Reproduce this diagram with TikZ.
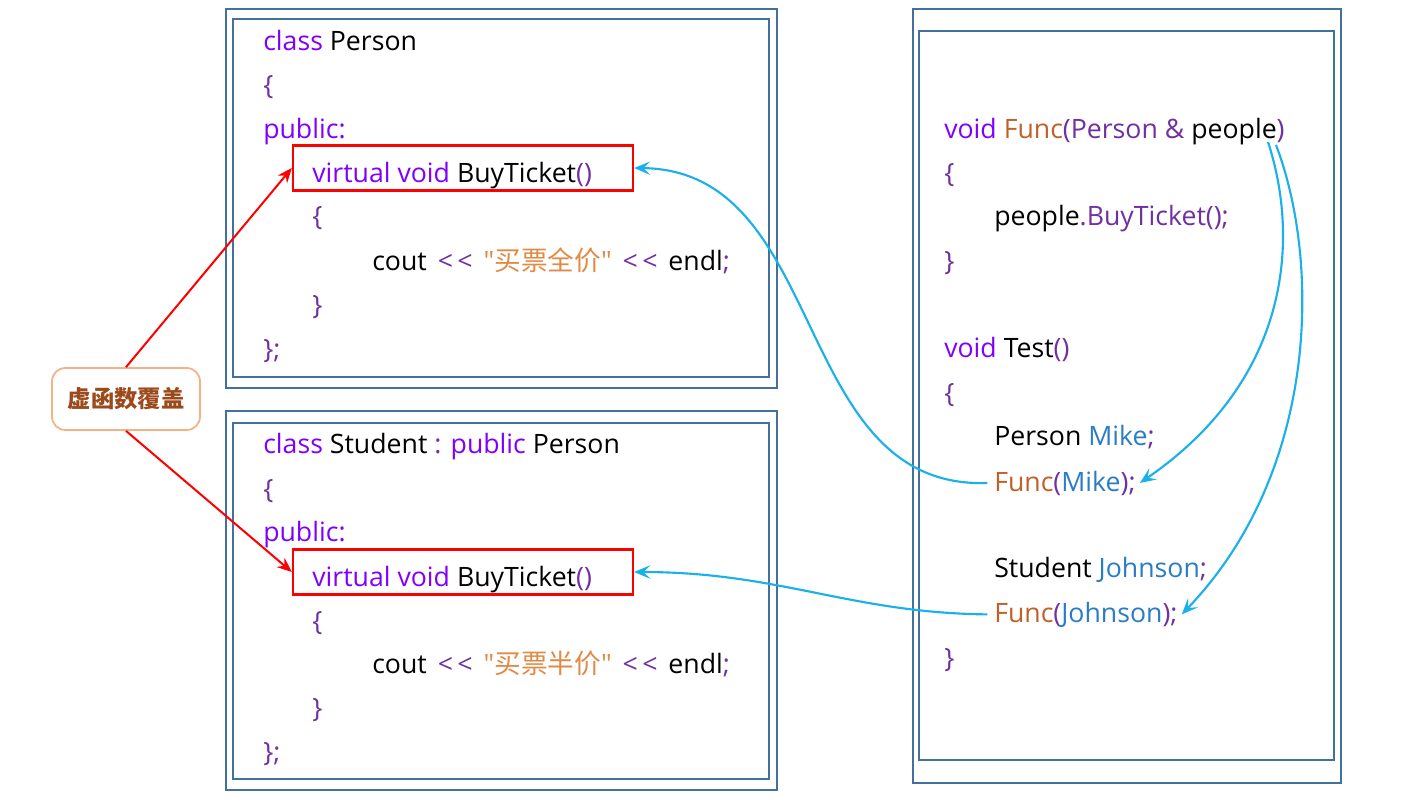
\documentclass[tikz,border=0pt]{standalone}
\usepackage{fontspec}
\setmainfont{Open Sans}
\newfontfamily\cjk{Noto Sans CJK SC}
\usepackage{tikz}
\usetikzlibrary{arrows.meta}
\definecolor{kwc}{HTML}{8000FF}
\definecolor{pnc}{HTML}{7030A0}
\definecolor{strc}{HTML}{E08A45}
\definecolor{fnc}{HTML}{C0602A}
\definecolor{varc}{HTML}{2A7CC6}
\definecolor{boxc}{HTML}{41719C}
\definecolor{arrc}{HTML}{1BB0EA}
\definecolor{tagc}{HTML}{F4B183}
\definecolor{tagtxt}{HTML}{9C4A1C}
\newcommand{\kwd}[1]{\textcolor{kwc}{#1}}
\newcommand{\pnc}[1]{\textcolor{pnc}{#1}}
\newcommand{\strg}[1]{\textcolor{strc}{\textquotedbl{\cjk #1}\textquotedbl}}
\newcommand{\fnc}[1]{\textcolor{fnc}{#1}}
\newcommand{\varn}[1]{\textcolor{varc}{#1}}
\newcommand{\shl}{\hspace{0.15em}\pnc{\textless\,\textless}\hspace{0.15em}}

\begin{document}
\begin{tikzpicture}[x=0.75pt, y=-0.75pt,
    code/.style={anchor=base west, inner sep=0pt, font=\fontsize{20}{24}\selectfont},
    boxline/.style={draw=boxc, line width=1.6pt},
    redbox/.style={draw=red, line width=1.7pt, minimum width=255pt, minimum height=33.75pt,
        inner sep=0pt},
    tag/.style={draw=tagc, line width=1.3pt, rounded corners=10pt, fill=white,
        minimum width=111pt, minimum height=46.5pt, text=tagtxt,
        font=\cjk\fontsize{17.5}{20}\selectfont\bfseries},
    redarr/.style={draw=red, line width=1.5pt, -{Stealth[length=11pt, width=9pt]}},
    bluearr/.style={draw=arrc, line width=1.6pt, -{Stealth[length=12pt, width=10pt, inset=5pt]}}]
  \useasboundingbox (0,0) rectangle (1401,807);

  % frames
  \draw[boxline] (226,9) rectangle (777,388);
  \draw[boxline] (233,19) rectangle (769,377);
  \draw[boxline] (226,411) rectangle (777,790);
  \draw[boxline] (233,423) rectangle (769,779);
  \draw[boxline] (913,9) rectangle (1341,783);
  \draw[boxline] (919,31) rectangle (1334,760);

  % class Person
  \node[redbox] (vbuy1) at (463,168) {};
  \node[code] (p1) at (263,50) {\kwd{class} Person};
  \node[code] (p2) at (263,94) {\pnc{\{}};
  \node[code] (p3) at (263,138) {\kwd{public:}};
  \node[code] (p4) at (312,182) {\kwd{virtual void} BuyTicket\pnc{()}};
  \node[code] (p5) at (312,225) {\pnc{\{}};
  \node[code] (p6) at (372,270) {cout \shl{} \strg{买票全价} \shl{} endl\pnc{;}};
  \node[code] (p7) at (312,314) {\pnc{\}}};
  \node[code] (p8) at (263,358) {\pnc{\};}};

  % class Student
  \node[redbox] (vbuy2) at (463,572) {};
  \node[code] (s1) at (263,453) {\kwd{class} Student \pnc{:} \kwd{public} Person};
  \node[code] (s2) at (263,498) {\pnc{\{}};
  \node[code] (s3) at (263,541) {\kwd{public:}};
  \node[code] (s4) at (312,586) {\kwd{virtual void} BuyTicket\pnc{()}};
  \node[code] (s5) at (312,630) {\pnc{\{}};
  \node[code] (s6) at (372,673) {cout \shl{} \strg{买票半价} \shl{} endl\pnc{;}};
  \node[code] (s7) at (312,717) {\pnc{\}}};
  \node[code] (s8) at (263,761) {\pnc{\};}};

  % Func / Test
  \node[code] (f1) at (944,138) {\kwd{void} \fnc{Func}\pnc{(Person \&} people\pnc{)}};
  \node[code] (f2) at (944,182) {\pnc{\{}};
  \node[code] (f3) at (994,225) {people\pnc{.BuyTicket();}};
  \node[code] (f4) at (944,270) {\pnc{\}}};
  \node[code] (t1) at (944,357) {\kwd{void} Test\pnc{()}};
  \node[code] (t2) at (944,402) {\pnc{\{}};
  \node[code] (t3) at (994,445) {Person \varn{Mike}\pnc{;}};
  \node[code] (callmike) at (994,491) {\fnc{Func}\pnc{(}\varn{Mike}\pnc{);}};
  \node[code] (t5) at (994,577) {Student \varn{Johnson}\pnc{;}};
  \node[code] (calljohn) at (994,622) {\fnc{Func}\pnc{(}\varn{Johnson}\pnc{);}};
  \node[code] (t7) at (944,667) {\pnc{\}}};

  \node[tag] (over) at (126,399) {虚函数覆盖};
  \coordinate (pplA) at (1268,142);
  \coordinate (pplB) at (1276,145);

  \draw[redarr] (over.north) -- (vbuy1.west);
  \draw[redarr] (over.south) -- (vbuy2.west);
  \draw[bluearr] ([xshift=-5pt]callmike.west) .. controls (790,490) and (830,170) .. (vbuy1.east);
  \draw[bluearr] ([xshift=-5pt]calljohn.west) .. controls (850,613) and (780,572) .. (vbuy2.east);
  \draw[bluearr] (pplA) .. controls (1300,240) and (1290,380) .. ([xshift=3pt]callmike.east);
  \draw[bluearr] (pplB) .. controls (1320,260) and (1320,470) .. ([xshift=3pt]calljohn.east);
\end{tikzpicture}
\end{document}
